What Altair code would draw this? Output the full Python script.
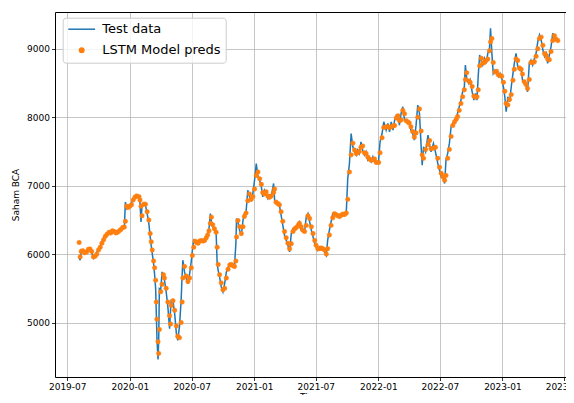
import altair as alt
import pandas as pd

# ---- data ----
dates = [
    "2019-08-05", "2019-08-08", "2019-08-11", "2019-08-16", "2019-08-21", "2019-08-27",
    "2019-09-01", "2019-09-06", "2019-09-11", "2019-09-16", "2019-09-21", "2019-09-26",
    "2019-10-01", "2019-10-06", "2019-10-11", "2019-10-16", "2019-10-21", "2019-10-26",
    "2019-11-01", "2019-11-06", "2019-11-11", "2019-11-16", "2019-11-21", "2019-11-26",
    "2019-12-01", "2019-12-06", "2019-12-11", "2019-12-16", "2019-12-19", "2019-12-23", "2019-12-27",
    "2020-01-01", "2020-01-06", "2020-01-11", "2020-01-16", "2020-01-21", "2020-01-28", "2020-01-31",
    "2020-02-03", "2020-02-06", "2020-02-11", "2020-02-16", "2020-02-21", "2020-02-26",
    "2020-03-01", "2020-03-04", "2020-03-07", "2020-03-11", "2020-03-14", "2020-03-17",
    "2020-03-19", "2020-03-21", "2020-03-24", "2020-03-26", "2020-03-28",
    "2020-04-01", "2020-04-05", "2020-04-09", "2020-04-12", "2020-04-17", "2020-04-22",
    "2020-04-27", "2020-04-30", "2020-05-02", "2020-05-07", "2020-05-12", "2020-05-17",
    "2020-05-21", "2020-05-26", "2020-05-31", "2020-06-03", "2020-06-05", "2020-06-10",
    "2020-06-15", "2020-06-20", "2020-06-25", "2020-06-30", "2020-07-03", "2020-07-07",
    "2020-07-11", "2020-07-15", "2020-07-20", "2020-07-24", "2020-07-29", "2020-08-03",
    "2020-08-08", "2020-08-13", "2020-08-17", "2020-08-21", "2020-08-25", "2020-08-28",
    "2020-09-01", "2020-09-06", "2020-09-11", "2020-09-14", "2020-09-17", "2020-09-21",
    "2020-09-26", "2020-10-01", "2020-10-06", "2020-10-11", "2020-10-16", "2020-10-21",
    "2020-10-26", "2020-10-31", "2020-11-04", "2020-11-08", "2020-11-10", "2020-11-14",
    "2020-11-19", "2020-11-24", "2020-11-29", "2020-12-03", "2020-12-08", "2020-12-13",
    "2020-12-18", "2020-12-23", "2020-12-28", "2021-01-02", "2021-01-07", "2021-01-12",
    "2021-01-17", "2021-01-22", "2021-01-26", "2021-01-31", "2021-02-05", "2021-02-10",
    "2021-02-15", "2021-02-20", "2021-02-27", "2021-03-02", "2021-03-06", "2021-03-11",
    "2021-03-16", "2021-03-21", "2021-03-26", "2021-03-31", "2021-04-05", "2021-04-10",
    "2021-04-15", "2021-04-20", "2021-04-25", "2021-04-30", "2021-05-05", "2021-05-10",
    "2021-05-14", "2021-05-19", "2021-05-24", "2021-05-29", "2021-06-03", "2021-06-08",
    "2021-06-13", "2021-06-18", "2021-06-23", "2021-06-28", "2021-07-02", "2021-07-07",
    "2021-07-12", "2021-07-17", "2021-07-22", "2021-07-27", "2021-08-01", "2021-08-05",
    "2021-08-10", "2021-08-15", "2021-08-20", "2021-08-25", "2021-08-30", "2021-09-04",
    "2021-09-09", "2021-09-14", "2021-09-19", "2021-09-24", "2021-09-29", "2021-10-03",
    "2021-10-08", "2021-10-13", "2021-10-18", "2021-10-23", "2021-10-28", "2021-11-01",
    "2021-11-06", "2021-11-11", "2021-11-16", "2021-11-21", "2021-11-26", "2021-12-01",
    "2021-12-06", "2021-12-11", "2021-12-16", "2021-12-21", "2021-12-26", "2022-01-02",
    "2022-01-06", "2022-01-12", "2022-01-17", "2022-01-24", "2022-01-29", "2022-02-03",
    "2022-02-08", "2022-02-13", "2022-02-18", "2022-02-23", "2022-02-28", "2022-03-04",
    "2022-03-09", "2022-03-14", "2022-03-19", "2022-03-24", "2022-03-29", "2022-04-02",
    "2022-04-07", "2022-04-12", "2022-04-17", "2022-04-22", "2022-04-27", "2022-05-02",
    "2022-05-07", "2022-05-10", "2022-05-14", "2022-05-20", "2022-05-27", "2022-06-01",
    "2022-06-05", "2022-06-12", "2022-06-18", "2022-06-25", "2022-06-30", "2022-07-05",
    "2022-07-10", "2022-07-15", "2022-07-19", "2022-07-24", "2022-07-29", "2022-08-03",
    "2022-08-08", "2022-08-13", "2022-08-18", "2022-08-22", "2022-08-27", "2022-09-01",
    "2022-09-06", "2022-09-11", "2022-09-14", "2022-09-18", "2022-09-24", "2022-09-28",
    "2022-10-04", "2022-10-09", "2022-10-14", "2022-10-18", "2022-10-22", "2022-10-26",
    "2022-10-31", "2022-11-04", "2022-11-09", "2022-11-14", "2022-11-19", "2022-11-24",
    "2022-11-27", "2022-12-01", "2022-12-05", "2022-12-10", "2022-12-15", "2022-12-20",
    "2022-12-25", "2022-12-30", "2023-01-04", "2023-01-08", "2023-01-12", "2023-01-17",
    "2023-01-22", "2023-01-27", "2023-02-01", "2023-02-05", "2023-02-10", "2023-02-15",
    "2023-02-20", "2023-02-25", "2023-03-01", "2023-03-06", "2023-03-11", "2023-03-16",
    "2023-03-21", "2023-03-26", "2023-03-31", "2023-04-05", "2023-04-10", "2023-04-15",
    "2023-04-20", "2023-04-25", "2023-04-30", "2023-05-05", "2023-05-10", "2023-05-14",
    "2023-05-19", "2023-05-24", "2023-05-29", "2023-06-03", "2023-06-08", "2023-06-13",
]

test_values = [
    5950, 5910, 6057, 6030, 6008, 6050,
    6081, 6060, 6032, 5940, 5984, 6030,
    6081, 6120, 6178, 6230, 6276, 6300,
    6325, 6300, 6349, 6320, 6300, 6330,
    6349, 6370, 6398, 6390, 6760, 6666, 6700,
    6690, 6740, 6812, 6840, 6861, 6820, 6750,
    6470, 6720, 6739, 6720, 6593, 6450,
    6252, 6120, 6010, 5862, 5700, 5500,
    5131, 4750, 4460, 4741, 5497,
    5480, 5740, 5680, 5619, 5450, 5229,
    4912, 5200, 5326, 5320, 5131, 4839,
    4741, 4936, 5326, 5700, 5911, 5740,
    5643, 5570, 5716, 5900, 6057, 6203,
    6180, 6154, 6170, 6203, 6190, 6180,
    6220, 6252, 6300, 6374, 6593, 6480,
    6398, 6350, 6301, 5862, 5760, 5667,
    5521, 5448, 5570, 5740, 5800, 5862,
    5840, 5813, 5838, 6150, 6520, 6471,
    6349, 6276, 6496, 6593, 6617, 6934,
    6837, 6788, 6885, 7080, 7324, 7129,
    7080, 6983, 6837, 6934, 6885, 6812,
    6861, 6840, 7032, 6788, 6739, 6740,
    6715, 6569, 6423, 6276, 6203, 6130,
    6033, 6301, 6374, 6380, 6398, 6440,
    6471, 6349, 6340, 6325, 6544, 6593,
    6471, 6349, 6252, 6154, 6106, 6057,
    6106, 6080, 6081, 6033, 5984, 6203,
    6349, 6471, 6593, 6580, 6570, 6544,
    6560, 6580, 6593, 6568, 6640, 7100,
    7324, 7762, 7567, 7494, 7446, 7519,
    7470, 7640, 7519, 7446, 7494, 7372,
    7397, 7348, 7421, 7348, 7324, 7372,
    7640, 7762, 7933, 7811, 7909, 7787,
    7933, 7811, 7957, 8030, 8006, 7884,
    8055, 8152, 7957, 7933, 7920, 7909,
    7811, 7762, 7665, 7884, 8177, 8055,
    7567, 7299, 7567, 7494, 7738, 7592,
    7494, 7616, 7494, 7324, 7226, 7130,
    7129, 7031, 7372, 7471, 7617, 7861,
    7909, 7958, 7982, 8056, 8153, 8250,
    8372, 8445, 8762, 8567, 8494, 8543,
    8372, 8250, 8348, 8250, 8616, 8908,
    8811, 8762, 8860, 8786, 8933, 9006,
    9298, 8933, 8640, 8689, 8640, 8592,
    8640, 8567, 8445, 8299, 8080, 8299,
    8226, 8445, 8640, 8786, 8933, 8738,
    8689, 8713, 8543, 8494, 8470, 8372,
    8786, 8835, 8762, 8860, 8933, 9103,
    9201, 9128, 8981, 8884, 8933, 8786,
    8908, 9030, 9225, 9152, 9128, 9103,
]

pred_values = [
    6170, 5960, 6040, 6050, 6020, 6030,
    6070, 6075, 6040, 5960, 5970, 6000,
    6060, 6100, 6160, 6210, 6260, 6290,
    6320, 6310, 6340, 6330, 6310, 6320,
    6340, 6360, 6390, 6395, 6480, 6700, 6680,
    6700, 6720, 6790, 6830, 6850, 6840, 6790,
    6700, 6560, 6730, 6730, 6620, 6500,
    6300, 6180, 6060, 5900, 5800, 5620,
    5300, 5050, 4720, 4550, 4900,
    5450, 5560, 5700, 5650, 5500, 5300,
    5100, 4980, 5250, 5320, 5180, 4950,
    4800, 4780, 5000, 5300, 5650, 5820,
    5680, 5600, 5650, 5800, 5980, 6100,
    6190, 6170, 6160, 6190, 6200, 6190,
    6200, 6240, 6280, 6340, 6450, 6540,
    6430, 6370, 6320, 6100, 5850, 5700,
    5580, 5480, 5500, 5650, 5780, 5840,
    5850, 5830, 5820, 5900, 6250, 6490,
    6400, 6300, 6400, 6550, 6600, 6780,
    6880, 6800, 6840, 6950, 7150, 7200,
    7100, 7020, 6900, 6880, 6910, 6850,
    6830, 6850, 6900, 6950, 6760, 6740,
    6720, 6620, 6480, 6330, 6240, 6160,
    6080, 6150, 6330, 6370, 6390, 6420,
    6450, 6400, 6350, 6330, 6420, 6560,
    6520, 6400, 6300, 6200, 6130, 6080,
    6080, 6090, 6080, 6060, 6000, 6080,
    6280, 6420, 6530, 6590, 6575, 6560,
    6550, 6570, 6585, 6580, 6600, 6800,
    7200, 7450, 7620, 7520, 7470, 7480,
    7500, 7560, 7580, 7480, 7470, 7420,
    7390, 7370, 7380, 7390, 7340, 7340,
    7480, 7700, 7850, 7860, 7860, 7850,
    7860, 7870, 7880, 7990, 8020, 7950,
    7960, 8100, 8050, 7950, 7930, 7915,
    7860, 7790, 7710, 7770, 8000, 8120,
    7800, 7450, 7400, 7530, 7600, 7660,
    7540, 7550, 7560, 7400, 7270, 7180,
    7130, 7080, 7150, 7400, 7530, 7720,
    7880, 7930, 7970, 8010, 8100, 8200,
    8300, 8400, 8550, 8650, 8530, 8510,
    8450, 8310, 8290, 8300, 8400, 8750,
    8860, 8790, 8800, 8830, 8850, 8970,
    9100, 9150, 8800, 8660, 8670, 8620,
    8610, 8600, 8510, 8380, 8200, 8180,
    8260, 8330, 8540, 8700, 8850, 8830,
    8720, 8700, 8630, 8520, 8480, 8420,
    8550, 8800, 8800, 8810, 8890, 9000,
    9150, 9170, 9050, 8930, 8900, 8850,
    8840, 8960, 9120, 9190, 9140, 9120,
]

series_names = ["Test data", "LSTM Model preds"]
series_colors = ["#1f77b4", "#ff7f0e"]
y_ticks = [5000, 6000, 7000, 8000, 9000]
x_tick_months = [(2019, 7), (2020, 1), (2020, 7), (2021, 1), (2021, 7),
                 (2022, 1), (2022, 7), (2023, 1), (2023, 7)]

test_df = pd.DataFrame({"Time": pd.to_datetime(dates), "value": test_values,
                        "series": series_names[0]})
pred_df = pd.DataFrame({"Time": pd.to_datetime(dates), "value": pred_values,
                        "series": series_names[1]})

x_scale = alt.Scale(domain=[alt.DateTime(year=2019, month=5, date=26),
                            alt.DateTime(year=2023, month=7, date=7)])
y_scale = alt.Scale(domain=[4205, 9537], nice=False, zero=False)

x_bottom = alt.X(
    "Time:T", title="Time", scale=x_scale,
    axis=alt.Axis(values=[alt.DateTime(year=y, month=m, date=1) for y, m in x_tick_months],
                  format="%Y-%m", orient="bottom"),
)
x_top = alt.X(
    "Time:T", title=None, scale=x_scale,
    axis=alt.Axis(orient="top", labels=False, ticks=False, grid=False, domain=True),
)
y_enc = alt.Y(
    "value:Q", title="Saham BCA", scale=y_scale,
    axis=alt.Axis(values=y_ticks, format="d"),
)

line = alt.Chart(test_df).mark_line(color=series_colors[0], strokeWidth=1.5).encode(
    x=x_bottom, y=y_enc
)

points = alt.Chart(pred_df).mark_point(filled=True, opacity=1, strokeWidth=0.5, size=20).encode(
    x=x_top,
    y=y_enc,
    fill=alt.Fill("series:N", title=None,
                  scale=alt.Scale(domain=series_names, range=series_colors)),
    stroke=alt.Stroke("series:N", title=None,
                      scale=alt.Scale(domain=series_names, range=series_colors)),
    shape=alt.Shape("series:N", title=None,
                    scale=alt.Scale(domain=series_names, range=["M-6,0H6", "circle"])),
)

chart = alt.layer(line, points).resolve_axis(x="independent").properties(
    width=511,
    height=365,
    padding={"left": 47, "top": 4, "right": 0, "bottom": 18},
    autosize=alt.AutoSizeParams(type="none"),
).configure_view(
    stroke=None
).configure_axis(
    labelFont="DejaVu Sans", labelFontSize=9, labelColor="#000000",
    titleFont="DejaVu Sans", titleFontSize=9, titleFontWeight="normal", titleColor="#000000",
    tickColor="#000000", tickSize=3.5, tickWidth=0.8, labelPadding=2,
    domainColor="#000000", domainWidth=1,
    gridColor="#b0b0b0", gridWidth=0.8, gridOpacity=0.9,
).configure_axisY(
    titlePadding=6, grid=True
).configure_axisX(
    titlePadding=1
).configure_legend(
    orient="none", legendX=7.7, legendY=5.7, padding=5,
    fillColor="rgba(255,255,255,0.8)", strokeColor="#cccccc", strokeWidth=1, cornerRadius=3,
    labelFont="DejaVu Sans", labelFontSize=13, labelColor="#000000",
    symbolSize=20, symbolStrokeWidth=1.5, symbolOffset=7.5, labelOffset=14, rowPadding=7,
)

chart.save("out.html", embed_options={"renderer": "svg", "actions": False})
